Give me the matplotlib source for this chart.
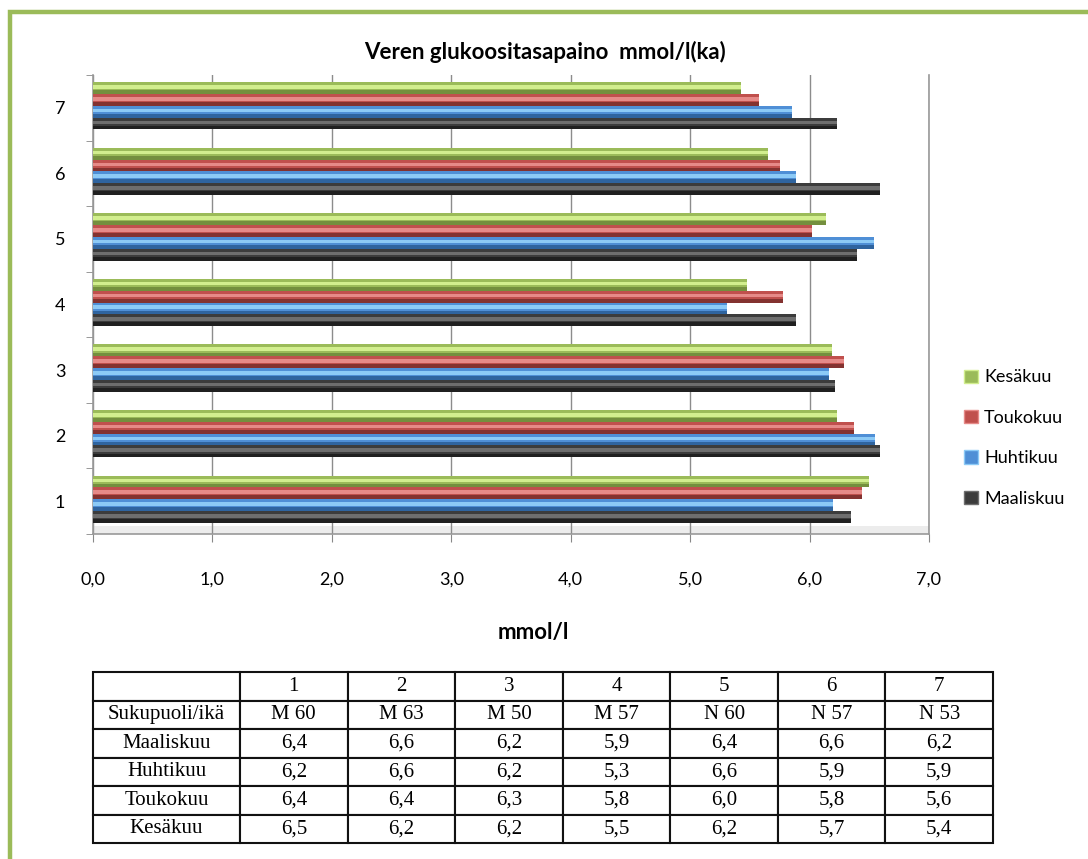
import matplotlib
matplotlib.use("Agg")
import matplotlib.pyplot as plt
from matplotlib.patches import Patch, Rectangle
import numpy as np

groups = [1, 2, 3, 4, 5, 6, 7]
months = ["Maaliskuu", "Huhtikuu", "Toukokuu", "Kesäkuu"]

# bar lengths (mmol/l)
maaliskuu = [6.35, 6.59, 6.21, 5.89, 6.40, 6.59, 6.23]
huhtikuu = [6.20, 6.55, 6.16, 5.31, 6.54, 5.89, 5.85]
toukokuu = [6.44, 6.37, 6.29, 5.78, 6.02, 5.75, 5.58]
kesakuu = [6.50, 6.23, 6.19, 5.48, 6.14, 5.65, 5.43]

# table below the chart, as printed
table_head = ["", "1", "2", "3", "4", "5", "6", "7"]
sex_age = ["M 60", "M 63", "M 50", "M 57", "N 60", "N 57", "N 53"]
tab_maaliskuu = ["6,4", "6,6", "6,2", "5,9", "6,4", "6,6", "6,2"]
tab_huhtikuu = ["6,2", "6,6", "6,2", "5,3", "6,6", "5,9", "5,9"]
tab_toukokuu = ["6,4", "6,4", "6,3", "5,8", "6,0", "5,8", "5,6"]
tab_kesakuu = ["6,5", "6,2", "6,2", "5,5", "6,2", "5,7", "5,4"]

series = [maaliskuu, huhtikuu, toukokuu, kesakuu]
# base, highlight, shade
colors = [
    ("#3c3c3c", "#6e6e6e", "#202020"),
    ("#4f8fd6", "#8ccaf6", "#2f649f"),
    ("#c0504d", "#e68a88", "#833230"),
    ("#9bbb59", "#d2ee8e", "#748f3e"),
]
offsets = [-0.24, -0.06, 0.12, 0.30]
bar_h = 0.18

plt.rcParams["font.family"] = ["Lato", "DejaVu Sans"]

fig = plt.figure(figsize=(10.88, 8.59), dpi=100)
fig.patch.set_facecolor("white")

# green frame of the original document
fig.patches.append(Rectangle((10 / 1088, -0.05), 1.2, 1 - 12 / 859 + 0.05,
                             transform=fig.transFigure, fill=False,
                             edgecolor="#9bbb59", linewidth=3.2))

ax = fig.add_axes([93 / 1088, 1 - 534 / 859, 836 / 1088, 459 / 859])
y = np.array(groups, dtype=float)

for vals, off, (base, light, dark) in zip(series, offsets, colors):
    yy = y + off
    ax.barh(yy, vals, height=bar_h, color=base, edgecolor="none", zorder=3)
    ax.barh(yy + bar_h * 0.1, vals, height=bar_h * 0.3, color=light,
            edgecolor="none", zorder=4)
    ax.barh(yy - bar_h * 0.34, vals, height=bar_h * 0.32, color=dark,
            edgecolor="none", zorder=4)

ax.set_xlim(0, 7)
ax.set_ylim(0.5, 7.5)
ax.set_xticks(range(8))
ax.set_xticklabels([f"{i},0" for i in range(8)], fontsize=13)
ax.set_yticks(groups)
ax.set_yticklabels([str(g) for g in groups], fontsize=13)
ax.set_yticks(np.arange(0.5, 7.6, 1), minor=True)
ax.tick_params(axis="y", which="major", length=0, pad=20)
ax.tick_params(axis="y", which="minor", length=5, color="#888888")
ax.tick_params(axis="x", length=6, pad=21, color="#888888")
ax.grid(axis="x", color="#8c8c8c", linewidth=1.0, zorder=0)
ax.spines["top"].set_visible(False)
for s in ["left", "bottom", "right"]:
    ax.spines[s].set_color("#999999")
    ax.spines[s].set_linewidth(1.2)

# light floor of the 3d chart
ax.axhspan(0.5, 0.62, color="#ececec", zorder=1, linewidth=0)

fig.text(545 / 1088, 1 - 52 / 859, "Veren glukoositasapaino  mmol/l(ka)",
         ha="center", va="center", fontsize=16, fontweight="bold")
fig.text(533 / 1088, 1 - 632 / 859, "mmol/l", ha="center", va="center",
         fontsize=16, fontweight="bold")

handles = [Patch(facecolor=colors[i][0], edgecolor=colors[i][1], label=months[i])
           for i in range(3, -1, -1)]
fig.legend(handles=handles, loc="center left",
           bbox_to_anchor=(955 / 1088, 1 - 438 / 859), frameon=False,
           fontsize=13, handlelength=0.75, handleheight=0.75,
           handletextpad=0.35, labelspacing=1.35, borderpad=0)

# data table
tax = fig.add_axes([93 / 1088, 1 - 843 / 859, 900 / 1088, 171 / 859])
tax.axis("off")
cells = [table_head,
         ["Sukupuoli/ikä"] + sex_age,
         ["Maaliskuu"] + tab_maaliskuu,
         ["Huhtikuu"] + tab_huhtikuu,
         ["Toukokuu"] + tab_toukokuu,
         ["Kesäkuu"] + tab_kesakuu]
first_w = 147 / 900
col_w = [first_w] + [(1 - first_w) / 7] * 7
tbl = tax.table(cellText=cells, colWidths=col_w, cellLoc="center",
                bbox=[0, 0, 1, 1])
tbl.auto_set_font_size(False)
for (r, c), cell in tbl.get_celld().items():
    cell.set_edgecolor("#111111")
    cell.set_linewidth(1.5)
    cell.get_text().set_fontfamily(["Liberation Serif", "DejaVu Serif"])
    cell.get_text().set_fontsize(15)

fig.savefig("out.png", dpi=100)
